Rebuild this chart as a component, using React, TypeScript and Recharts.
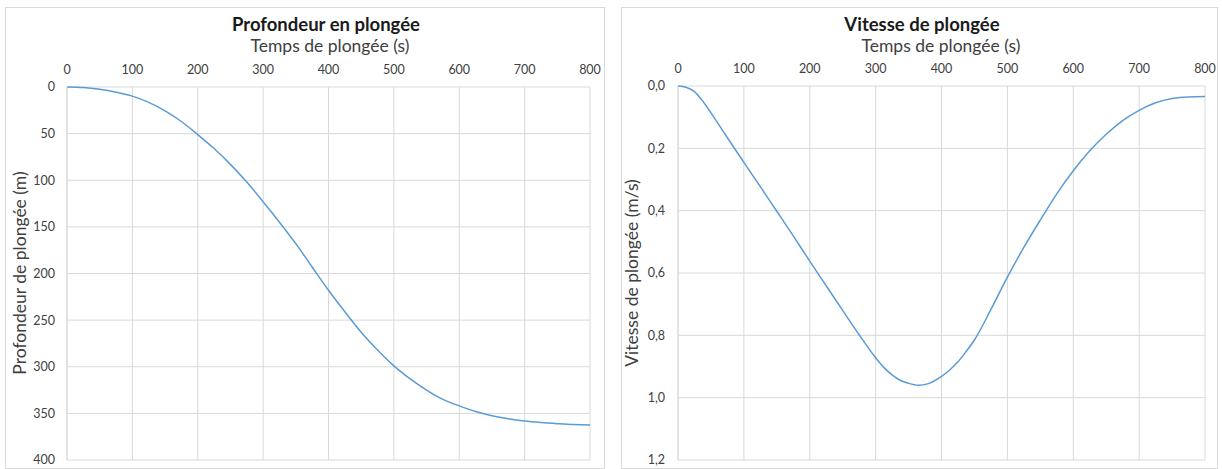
import React from "react";
import { LineChart, Line, XAxis, YAxis, CartesianGrid } from "recharts";

// Dive time (s) sample points
const times = [0, 25, 50, 75, 100, 125, 150, 175, 200, 225, 250, 275, 300, 325, 350, 375, 400, 425, 450, 475, 500, 525, 550, 575, 600, 625, 650, 675, 700, 725, 750, 775, 800];
// Depth (m)
const depths = [0, 0.6, 2.5, 5.6, 9.8, 16.5, 25.5, 37, 51, 66, 83, 102, 123, 145, 168, 193, 218, 241, 263, 282, 299, 313, 325, 335, 342, 348, 352.5, 355.8, 358.2, 359.8, 361, 362, 362.5];
// Speed time samples
const speedTimes = [0, 12, 25, 38, 50, 62, 75, 100, 125, 150, 175, 200, 225, 250, 275, 300, 312, 325, 337, 350, 365, 380, 400, 412, 425, 437, 450, 475, 500, 525, 550, 575, 600, 625, 650, 675, 700, 725, 750, 775, 800];
// Speed (m/s)
const speeds = [0, 0.004, 0.018, 0.05, 0.086, 0.124, 0.166, 0.245, 0.323, 0.402, 0.481, 0.562, 0.641, 0.72, 0.798, 0.872, 0.902, 0.927, 0.944, 0.954, 0.96, 0.955, 0.932, 0.912, 0.885, 0.853, 0.815, 0.717, 0.613, 0.518, 0.43, 0.346, 0.272, 0.208, 0.155, 0.111, 0.078, 0.054, 0.04, 0.035, 0.034];

const xTicks = [0, 100, 200, 300, 400, 500, 600, 700, 800];
const depthTicks = [0, 50, 100, 150, 200, 250, 300, 350, 400];
const speedTicks = [0, 0.2, 0.4, 0.6, 0.8, 1.0, 1.2];

const depthData = times.map((t, i) => ({ t, d: depths[i] }));
const speedData = speedTimes.map((t, i) => ({ t, v: speeds[i] }));

const FONT = "Lato, 'Open Sans', sans-serif";
const GRID = "#d9d9d9";
const TXT = "#404040";
const BLUE = "#5b9bd5";

const tickStyle = { fontSize: 12.5, fill: TXT, fontFamily: FONT };

export default function App() {
  return (
    <div style={{ position: "fixed", left: 0, top: 0, width: 1222, height: 469, background: "#fff", fontFamily: FONT }}>
      {/* frames */}
      <div style={{ position: "absolute", left: 5, top: 7, width: 600, height: 462, border: `1px solid ${GRID}`, boxSizing: "border-box" }} />
      <div style={{ position: "absolute", left: 621, top: 7, width: 597, height: 462, border: `1px solid ${GRID}`, boxSizing: "border-box" }} />

      <div style={{ position: "absolute", left: 5, top: 7 }}>
        <LineChart width={600} height={459} data={depthData} margin={{ top: 60, right: 15, bottom: 6, left: 12 }}>
          <CartesianGrid stroke={GRID} strokeWidth={1} />
          <XAxis
            dataKey="t"
            type="number"
            orientation="top"
            domain={[0, 800]}
            ticks={xTicks}
            height={20}
            axisLine={false}
            tickLine={false}
            tickSize={0}
            tickMargin={13}
            tick={tickStyle}
            interval={0}
          />
          <YAxis
            type="number"
            domain={[0, 400]}
            ticks={depthTicks}
            reversed
            width={50}
            axisLine={{ stroke: GRID }}
            tickLine={false}
            tickSize={0}
            tickMargin={12}
            tick={tickStyle}
            interval={0}
          />
          <Line dataKey="d" type="monotone" stroke={BLUE} strokeWidth={1.5} dot={false} isAnimationActive={false} />
        </LineChart>
      </div>

      <div style={{ position: "absolute", left: 621, top: 7 }}>
        <LineChart width={596} height={459} data={speedData} margin={{ top: 59, right: 12, bottom: 6, left: 7 }}>
          <CartesianGrid stroke={GRID} strokeWidth={1} />
          <XAxis
            dataKey="t"
            type="number"
            orientation="top"
            domain={[0, 800]}
            ticks={xTicks}
            height={20}
            axisLine={false}
            tickLine={false}
            tickSize={0}
            tickMargin={13}
            tick={tickStyle}
            interval={0}
          />
          <YAxis
            type="number"
            domain={[0, 1.2]}
            ticks={speedTicks}
            reversed
            width={50}
            axisLine={{ stroke: GRID }}
            tickLine={false}
            tickSize={0}
            tickMargin={13}
            tick={tickStyle}
            interval={0}
            tickFormatter={(v: number) => v.toFixed(1).replace(".", ",")}
          />
          <Line dataKey="v" type="monotone" stroke={BLUE} strokeWidth={1.5} dot={false} isAnimationActive={false} />
        </LineChart>
      </div>

      <svg width={1222} height={469} style={{ position: "absolute", left: 0, top: 0, pointerEvents: "none" }}>
        <g fontFamily={FONT}>
          <text x={326} y={31} textAnchor="middle" fontSize={18.5} fontWeight="bold" fill="#1a1a1a">Profondeur en plongée</text>
          <text x={330} y={52} textAnchor="middle" fontSize={17.5} fill={TXT}>Temps de plongée (s)</text>
          <text transform="translate(26,273) rotate(-90)" textAnchor="middle" fontSize={17.5} fill={TXT}>Profondeur de plongée (m)</text>

          <text x={922} y={31} textAnchor="middle" fontSize={18.5} fontWeight="bold" fill="#1a1a1a">Vitesse de plongée</text>
          <text x={941} y={52} textAnchor="middle" fontSize={17.5} fill={TXT}>Temps de plongée (s)</text>
          <text transform="translate(638,273) rotate(-90)" textAnchor="middle" fontSize={17.5} fill={TXT}>Vitesse de plongée (m/s)</text>
        </g>
      </svg>
    </div>
  );
}
